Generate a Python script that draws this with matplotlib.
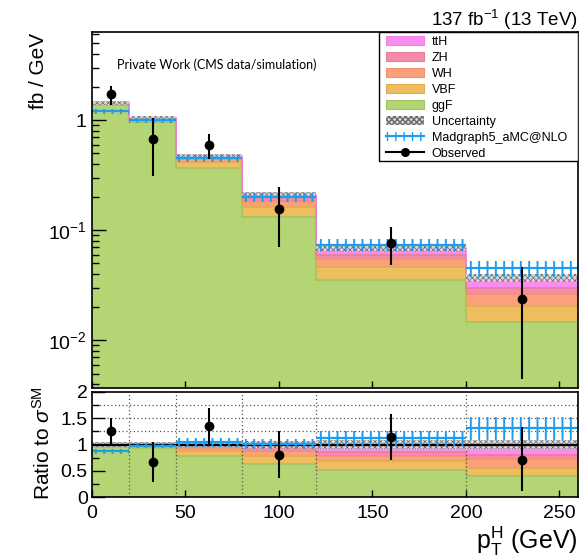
import numpy as np
import matplotlib
matplotlib.use('Agg')
import matplotlib.pyplot as plt
from matplotlib.patches import Patch, Rectangle
from matplotlib.lines import Line2D
from matplotlib.ticker import FixedLocator, FixedFormatter, NullFormatter, MultipleLocator
from matplotlib import font_manager

# ---------------- data ----------------
edges = [0, 20, 45, 80, 120, 200, 260]
ggF = [1.36, 0.965, 0.365, 0.131, 0.035, 0.0148]
VBF = [0.043, 0.045, 0.050, 0.032, 0.0117, 0.0059]
WH = [0.014, 0.015, 0.027, 0.020, 0.0076, 0.0059]
ZH = [0.010, 0.010, 0.018, 0.016, 0.0048, 0.0030]
ttH = [0.004, 0.005, 0.010, 0.011, 0.0099, 0.0074]
unc_rel = [0.04, 0.04, 0.05, 0.06, 0.08, 0.09]
mg = [1.20, 1.00, 0.45, 0.20, 0.074, 0.045]
mg_rel = [0.05, 0.05, 0.08, 0.09, 0.13, 0.17]
obs = [1.72, 0.67, 0.59, 0.155, 0.076, 0.024]
obs_lo = [1.37, 0.31, 0.44, 0.071, 0.048, 0.0045]
obs_hi = [2.04, 1.04, 0.75, 0.246, 0.107, 0.046]
mg_ratio = [0.87, 0.98, 1.04, 1.01, 1.12, 1.31]
obs_ratio = [1.25, 0.67, 1.35, 0.80, 1.14, 0.70]
obs_ratio_lo = [0.98, 0.29, 0.98, 0.36, 0.71, 0.12]
obs_ratio_hi = [1.51, 1.04, 1.70, 1.25, 1.59, 1.34]

proc_names = ['ggF', 'VBF', 'WH', 'ZH', 'ttH']
proc_vals = [ggF, VBF, WH, ZH, ttH]
proc_fc = ['#B4D574', '#EEBE5E', '#FBA07B', '#F58BA8', '#FD8CF0']
proc_ec = ['#A0C262', '#DDAC50', '#EE9272', '#E67D9A', '#EE82E0']
mg_col = '#1E9CEE'

plt.rcParams['font.family'] = ['Liberation Sans', 'DejaVu Sans']
plt.rcParams['mathtext.fontset'] = 'custom'
plt.rcParams['mathtext.rm'] = 'Liberation Sans'
plt.rcParams['mathtext.it'] = 'Liberation Sans:italic'
plt.rcParams['mathtext.bf'] = 'Liberation Sans:bold'

installed = {f.name for f in font_manager.fontManager.ttflist}
pw_family = ['Liberation Sans Narrow'] if 'Liberation Sans Narrow' in installed else ['Lato']
pw_size = 10 if pw_family[0] == 'Liberation Sans Narrow' else 9

edges_a = np.array(edges, float)
centers = 0.5 * (edges_a[:-1] + edges_a[1:])
n = len(centers)
total = np.sum(np.array(proc_vals), axis=0)

fig = plt.figure(figsize=(5.88, 5.60), dpi=100)
W, H = 588, 560
axm = fig.add_axes([92 / W, 1 - 388 / H, 486 / W, 356 / H])
axr = fig.add_axes([92 / W, 1 - 497 / H, 486 / W, 105 / H])


def hatch_lw(patch, lw):
    if hasattr(patch, 'set_hatch_linewidth'):
        patch.set_hatch_linewidth(lw)


def draw_stack(ax, vals_list, base0):
    lower = np.full(n, base0)
    cum = np.zeros(n)
    for i, (vals, fc, ec) in enumerate(zip(vals_list, proc_fc, proc_ec)):
        cum = cum + np.array(vals)
        ax.stairs(cum, edges_a, baseline=lower, fill=True, facecolor=fc,
                  edgecolor='none', lw=0, zorder=1)
        ax.stairs(cum, edges_a, baseline=None, color=ec, lw=1.1, zorder=1.5)
        lower = cum.copy()


def draw_band(ax, lo, hi, color, hatch, lw_h, face='none', z=3):
    with plt.rc_context({'hatch.linewidth': lw_h}):
        p = ax.stairs(hi, edges_a, baseline=lo, fill=True, facecolor=face,
                      edgecolor=color, lw=0, hatch=hatch, zorder=z)
    hatch_lw(p, lw_h)
    return p


# ---------------- main panel ----------------
draw_stack(axm, proc_vals, 1e-5)
draw_band(axm, total * (1 - np.array(unc_rel)), total * (1 + np.array(unc_rel)),
          '#6a6a6a', 'xxxxxx', 0.5, face=(0.85, 0.85, 0.85, 0.85), z=3)
mg_a = np.array(mg)
draw_band(axm, mg_a * (1 - np.array(mg_rel)), mg_a * (1 + np.array(mg_rel)),
          mg_col, '||', 1.4, z=4)
axm.hlines(mg_a, edges_a[:-1], edges_a[1:], color=mg_col, lw=1.6, zorder=4)
obs_a = np.array(obs)
axm.errorbar(centers, obs_a, yerr=[obs_a - np.array(obs_lo), np.array(obs_hi) - obs_a],
             fmt='o', color='black', ms=6, lw=1.5, capsize=0, zorder=6)

axm.set_yscale('log')
axm.set_xlim(0, 260)
axm.set_ylim(0.0037, 6.3)
axm.yaxis.set_major_locator(FixedLocator([0.01, 0.1, 1]))
axm.yaxis.set_major_formatter(FixedFormatter(['$10^{-2}$', '$10^{-1}$', '1']))
minor = []
for dec in [0.001, 0.01, 0.1, 1]:
    for k in range(2, 10):
        minor.append(k * dec)
axm.yaxis.set_minor_locator(FixedLocator(minor))
axm.yaxis.set_minor_formatter(NullFormatter())
axm.xaxis.set_major_locator(MultipleLocator(50))
axm.set_xticklabels([])
axm.tick_params(axis='both', which='both', direction='in', top=False, right=False)
axm.tick_params(axis='y', which='major', length=10, width=1, labelsize=14, pad=4)
axm.tick_params(axis='y', which='minor', length=5, width=1)
axm.tick_params(axis='x', which='major', length=5, width=1)
for s in axm.spines.values():
    s.set_linewidth(1.2)
    s.set_zorder(10)

# legend
handles = [Patch(facecolor=proc_fc[i], edgecolor=proc_ec[i], lw=0.8) for i in [4, 3, 2, 1, 0]]
with plt.rc_context({'hatch.linewidth': 0.5}):
    h_unc = Patch(facecolor=(0.85, 0.85, 0.85), edgecolor='#6a6a6a', lw=0, hatch='xxxxxx')
hatch_lw(h_unc, 0.5)
with plt.rc_context({'hatch.linewidth': 1.4}):
    h_mgp = Patch(facecolor='none', edgecolor=mg_col, lw=0, hatch='||')
hatch_lw(h_mgp, 1.4)
h_mgl = Line2D([], [], color=mg_col, lw=1.6)
h_obs = Line2D([], [], color='black', lw=1.5, marker='o', ms=5.5)
handles += [h_unc, (h_mgp, h_mgl), h_obs]
labels = ['ttH', 'ZH', 'WH', 'VBF', 'ggF', 'Uncertainty', 'Madgraph5_aMC@NLO', 'Observed']
leg = axm.legend(handles, labels, loc='upper left',
                 bbox_to_anchor=((383 - 92) / 486, 1 - 1 / 356),
                 borderaxespad=0, fontsize=9, frameon=False,
                 handlelength=3.1, handleheight=0.8,
                 labelspacing=0.31, handletextpad=0.6, borderpad=0.2)
leg.set_zorder(20)
frame = Rectangle(((379 - 92) / 486, (388 - 161) / 356), 1 - (379 - 92) / 486,
                  (161 - 32) / 356, transform=axm.transAxes,
                  facecolor='white', edgecolor='black', lw=1.0, zorder=19)
axm.add_patch(frame)

# ---------------- ratio panel ----------------
frac_list = [np.array(v) / total for v in proc_vals]
draw_stack(axr, frac_list, 0.0)
for e in edges_a[1:-1]:
    axr.axvline(e, color='#555555', lw=0.9, ls=(0, (1, 2)), zorder=2.5)
for yv in [1.25, 1.5, 1.75]:
    axr.axhline(yv, color='#555555', lw=0.9, ls=(0, (1, 2)), zorder=0.5)
draw_band(axr, 1 - np.array(unc_rel), 1 + np.array(unc_rel), '#6a6a6a', 'xxxxxx', 0.5,
          face=(0.85, 0.85, 0.85, 0.85), z=3)
axr.axhline(1.0, color='black', lw=1.6, zorder=3.5)
mgr = np.array(mg_ratio)
draw_band(axr, mgr * (1 - np.array(mg_rel)), mgr * (1 + np.array(mg_rel)),
          mg_col, '||', 1.4, z=4)
axr.hlines(mgr, edges_a[:-1], edges_a[1:], color=mg_col, lw=1.6, zorder=4)
obr = np.array(obs_ratio)
axr.errorbar(centers, obr, yerr=[obr - np.array(obs_ratio_lo), np.array(obs_ratio_hi) - obr],
             fmt='o', color='black', ms=6, lw=1.5, capsize=0, zorder=6)

axr.set_xlim(0, 260)
axr.set_ylim(0, 2)
axr.yaxis.set_major_locator(FixedLocator([0, 0.5, 1, 1.5, 2]))
axr.yaxis.set_major_formatter(FixedFormatter(['0', '0.5', '1', '1.5', '2']))
axr.yaxis.set_minor_locator(MultipleLocator(0.25))
axr.xaxis.set_major_locator(MultipleLocator(50))
axr.tick_params(axis='both', which='both', direction='in', top=False, right=False)
axr.tick_params(axis='y', which='major', length=9, width=1, labelsize=14, pad=3)
axr.tick_params(axis='y', which='minor', length=5, width=1)
axr.tick_params(axis='x', which='major', length=5, width=1, labelsize=14, pad=6)
for s in axr.spines.values():
    s.set_linewidth(1.2)
    s.set_zorder(10)

# ---------------- texts ----------------
fig.text(578 / W, 1 - 20 / H, '137 fb$^{-1}$ (13 TeV)', ha='right', va='center', fontsize=13.5)
fig.text(117 / W, 1 - 65 / H, 'Private Work (CMS data/simulation)', ha='left', va='center',
         fontsize=pw_size, family=pw_family + ['DejaVu Sans'])
fig.text(38 / W, 1 - 33 / H, 'fb / GeV', rotation=90, ha='center', va='top', fontsize=15)
fig.text(43 / W, 1 - 443 / H, 'Ratio to $\\sigma^{\\mathrm{SM}}$', rotation=90,
         ha='center', va='center', fontsize=15)
fig.text(578 / W, 1 - 541 / H, 'p$_{\\mathrm{T}}^{\\mathrm{H}}$ (GeV)', ha='right',
         va='center', fontsize=18)

fig.savefig('out.png', dpi=100)
